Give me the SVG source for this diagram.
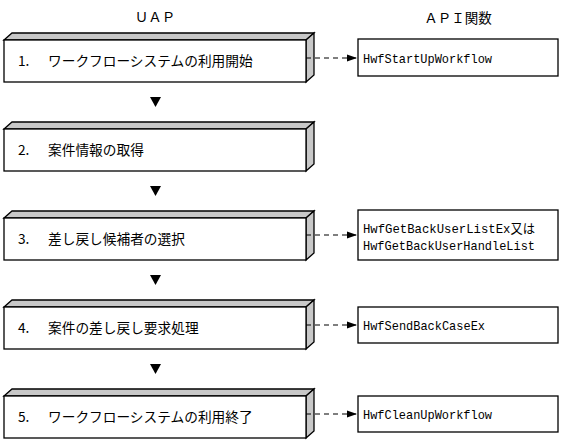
<svg xmlns="http://www.w3.org/2000/svg" width="562" height="443" viewBox="0 0 562 443">
<defs>
<style>
.front{fill:#fff;stroke:#000;stroke-width:1.3}
.face{fill:#c8c8c8;stroke:#000;stroke-width:1.3;stroke-linejoin:miter}
.api{fill:#fff;stroke:#000;stroke-width:1.3}
.jp{font-family:"Noto Sans CJK JP","Noto Sans CJK SC",sans-serif;font-size:13.7px;fill:#000}
.title{font-family:"Noto Sans CJK JP","Noto Sans CJK SC",sans-serif;font-size:13.5px;fill:#000}
.mono{font-family:"Liberation Mono","Noto Sans CJK JP",monospace;font-size:13px;fill:#000}
.dash{fill:none;stroke:#000;stroke-width:1.2;stroke-dasharray:5,4}
.tri{fill:#000}
</style>
<marker id="ah" markerUnits="userSpaceOnUse" markerWidth="12" markerHeight="10" refX="10" refY="4" orient="auto">
<path d="M0,0.5 L10,4 L0,7.5 Z" fill="#000"/>
</marker>
</defs>
<rect width="562" height="443" fill="#fff"/>
<text class="title" x="155" y="22" text-anchor="middle">ＵＡＰ</text>
<text class="title" x="458" y="23" text-anchor="middle">ＡＰＩ関数</text>

<g id="step1">
<polygon class="face" points="4,40 12,33 314,33 306,40"/>
<polygon class="face" points="306,40 314,33 314,75 306,82"/>
<rect class="front" x="4" y="40" width="302" height="42"/>
<text class="jp" y="66"><tspan x="18">1.</tspan><tspan x="48">ワークフローシステムの利用開始</tspan></text>
</g>
<g id="step2">
<polygon class="face" points="4,129 12,122 314,122 306,129"/>
<polygon class="face" points="306,129 314,122 314,164 306,171"/>
<rect class="front" x="4" y="129" width="302" height="42"/>
<text class="jp" y="155"><tspan x="18">2.</tspan><tspan x="48">案件情報の取得</tspan></text>
</g>
<g id="step3">
<polygon class="face" points="4,218 12,211 314,211 306,218"/>
<polygon class="face" points="306,218 314,211 314,253 306,260"/>
<rect class="front" x="4" y="218" width="302" height="42"/>
<text class="jp" y="244"><tspan x="18">3.</tspan><tspan x="48">差し戻し候補者の選択</tspan></text>
</g>
<g id="step4">
<polygon class="face" points="4,307 12,300 314,300 306,307"/>
<polygon class="face" points="306,307 314,300 314,342 306,349"/>
<rect class="front" x="4" y="307" width="302" height="42"/>
<text class="jp" y="333"><tspan x="18">4.</tspan><tspan x="48">案件の差し戻し要求処理</tspan></text>
</g>
<g id="step5">
<polygon class="face" points="4,396 12,389 314,389 306,396"/>
<polygon class="face" points="306,396 314,389 314,431 306,438"/>
<rect class="front" x="4" y="396" width="302" height="42"/>
<text class="jp" y="422"><tspan x="18">5.</tspan><tspan x="48">ワークフローシステムの利用終了</tspan></text>
</g>

<g id="api1">
<rect class="api" x="358" y="39" width="200" height="37"/>
<text class="mono" x="363" y="63" textLength="129" lengthAdjust="spacingAndGlyphs">HwfStartUpWorkflow</text>
</g>
<g id="api3">
<rect class="api" x="358" y="210" width="200" height="50"/>
<text class="mono" x="363" y="233" textLength="172" lengthAdjust="spacingAndGlyphs">HwfGetBackUserListEx又は</text>
<text class="mono" x="363" y="250" textLength="172" lengthAdjust="spacingAndGlyphs">HwfGetBackUserHandleList</text>
</g>
<g id="api4">
<rect class="api" x="358" y="307" width="200" height="36"/>
<text class="mono" x="363" y="330" textLength="122" lengthAdjust="spacingAndGlyphs">HwfSendBackCaseEx</text>
</g>
<g id="api5">
<rect class="api" x="358" y="396" width="200" height="36"/>
<text class="mono" x="363" y="419" textLength="129" lengthAdjust="spacingAndGlyphs">HwfCleanUpWorkflow</text>
</g>

<g id="connectors">
<line class="dash" x1="306" y1="58" x2="357" y2="58" marker-end="url(#ah)"/>
<line class="dash" x1="306" y1="235" x2="357" y2="235" marker-end="url(#ah)"/>
<line class="dash" x1="306" y1="325" x2="357" y2="325" marker-end="url(#ah)"/>
<line class="dash" x1="306" y1="414" x2="357" y2="414" marker-end="url(#ah)"/>
<polygon class="tri" points="150,97 161,97 155.5,107"/>
<polygon class="tri" points="150,186 161,186 155.5,196"/>
<polygon class="tri" points="150,275 161,275 155.5,285"/>
<polygon class="tri" points="150,364 161,364 155.5,374"/>
</g>
</svg>
